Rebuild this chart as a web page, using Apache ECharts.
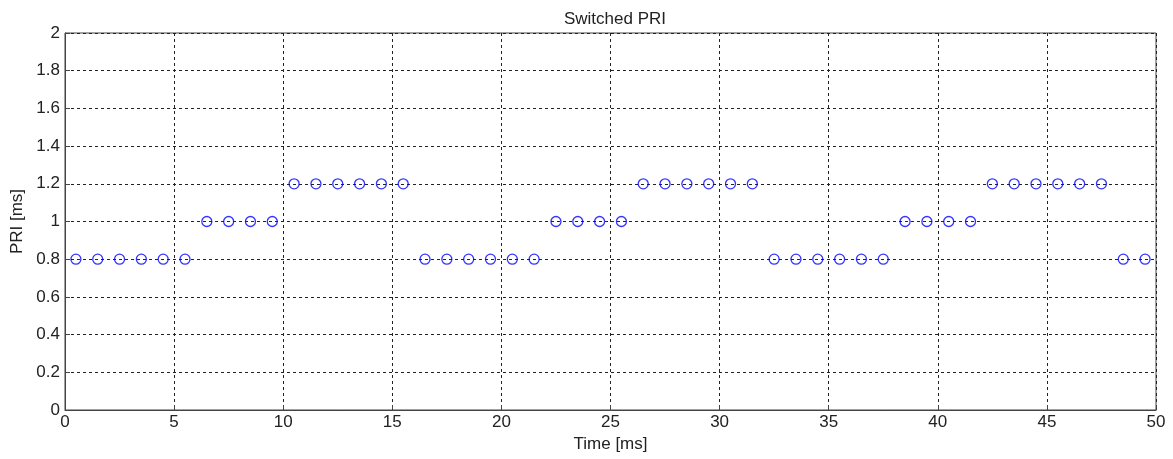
<!DOCTYPE html>
<html>
<head>
<meta charset="utf-8">
<script src="https://cdn.jsdelivr.net/npm/echarts@6/dist/echarts.min.js"></script>
<style>html,body{margin:0;padding:0;background:#fff;}#c{width:1173px;height:459px;}</style>
</head>
<body>
<div id="c"></div>
<script>
const timeMs = [0.5,1.5,2.5,3.5,4.5,5.5,6.5,7.5,8.5,9.5,10.5,11.5,12.5,13.5,14.5,15.5,16.5,17.5,18.5,19.5,20.5,21.5,22.5,23.5,24.5,25.5,26.5,27.5,28.5,29.5,30.5,31.5,32.5,33.5,34.5,35.5,36.5,37.5,38.5,39.5,40.5,41.5,42.5,43.5,44.5,45.5,46.5,47.5,48.5,49.5];
const priMs = [0.8,0.8,0.8,0.8,0.8,0.8,1,1,1,1,1.2,1.2,1.2,1.2,1.2,1.2,0.8,0.8,0.8,0.8,0.8,0.8,1,1,1,1,1.2,1.2,1.2,1.2,1.2,1.2,0.8,0.8,0.8,0.8,0.8,0.8,1,1,1,1,1.2,1.2,1.2,1.2,1.2,1.2,0.8,0.8];
const titleText = 'Switched PRI';
const xName = 'Time [ms]';
const yName = 'PRI [ms]';

const font = 'Arial, "Liberation Sans", sans-serif';
const fs = 17;
const chart = echarts.init(document.getElementById('c'));
const axisLine = {show: true, lineStyle: {color: '#444', width: 1}};
const split = {show: true, lineStyle: {color: '#222', type: [3, 3], width: 1}};
chart.setOption({
  animation: false,
  backgroundColor: '#fff',
  title: {text: titleText, left: 610, top: 6, textAlign: 'center',
    textStyle: {fontFamily: font, fontSize: fs, fontWeight: 'normal', color: '#222'}},
  grid: {left: 65, right: 17, top: 33, bottom: 49, show: true, borderColor: '#444', borderWidth: 1},
  xAxis: [{
    type: 'value', min: 0, max: 50, interval: 5,
    name: xName, nameLocation: 'middle', nameGap: 26,
    nameTextStyle: {fontFamily: font, fontSize: fs, color: '#222'},
    axisLine: axisLine,
    axisTick: {show: true, inside: true, length: 5, lineStyle: {color: '#444'}},
    axisLabel: {fontFamily: font, fontSize: fs, color: '#222', margin: 4},
    splitLine: split
  }],
  yAxis: [{
    type: 'value', min: 0, max: 2, interval: 0.2,
    name: yName, nameLocation: 'middle', nameGap: 37,
    nameTextStyle: {fontFamily: font, fontSize: fs, color: '#222'},
    axisLine: axisLine,
    axisTick: {show: true, inside: true, length: 5, lineStyle: {color: '#444'}},
    axisLabel: {fontFamily: font, fontSize: fs, color: '#222', margin: 5},
    splitLine: split
  }],
  series: [{
    type: 'scatter',
    data: timeMs.map((t, i) => [t, priMs[i]]),
    symbol: 'circle',
    symbolSize: 10,
    itemStyle: {color: 'rgba(255,255,255,0)', borderColor: '#0000ff', borderWidth: 1.3}
  }]
});
</script>
</body>
</html>
